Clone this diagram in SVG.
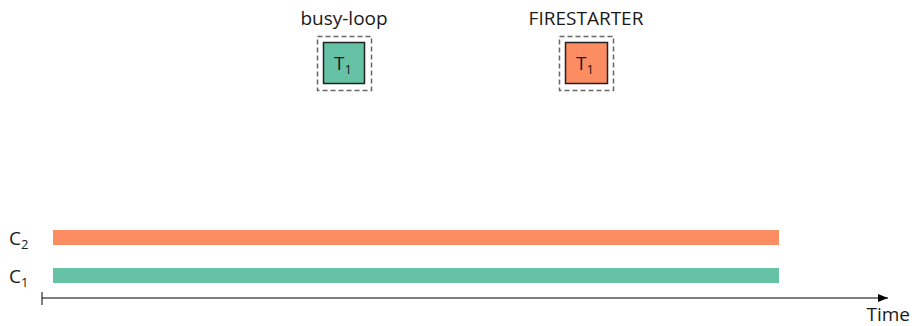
<svg xmlns="http://www.w3.org/2000/svg" width="914" height="326" viewBox="0 0 914 326">
<style>
text{font-family:"Open Sans","Noto Sans","DejaVu Sans",sans-serif;fill:#1a1a1a}
.lbl{font-size:19px}
.sub{font-size:13px}
.dash{fill:none;stroke:#666;stroke-width:1.5;stroke-dasharray:5,3}
.task{stroke:#222;stroke-width:1.5}
.green{fill:#66C2A5}
.orange{fill:#FC8D62}
</style>
<defs>
<marker id="arr" viewBox="0 0 10 10" refX="10" refY="5" markerWidth="10" markerHeight="10" markerUnits="userSpaceOnUse" orient="auto">
<path d="M0,1 L10,5 L0,9 z" fill="#000"/>
</marker>
</defs>
<g id="busy-loop">
<text class="lbl" x="344" y="25" text-anchor="middle">busy-loop</text>
<rect class="dash" x="317.5" y="36.5" width="54" height="54"/>
<rect class="task green" x="323.5" y="42.5" width="41" height="41"/>
<text class="lbl" x="334" y="70">T<tspan class="sub" dy="4">1</tspan></text>
</g>
<g id="firestarter">
<text class="lbl" x="586" y="25" text-anchor="middle">FIRESTARTER</text>
<rect class="dash" x="559.5" y="36.5" width="54" height="54"/>
<rect class="task orange" x="565.5" y="42.5" width="42" height="41"/>
<text class="lbl" x="576" y="70">T<tspan class="sub" dy="4">1</tspan></text>
</g>
<g id="c2">
<text class="lbl" x="9" y="245">C<tspan class="sub" dy="4">2</tspan></text>
<rect class="orange" x="53" y="230" width="726" height="15"/>
</g>
<g id="c1">
<text class="lbl" x="9" y="283">C<tspan class="sub" dy="4">1</tspan></text>
<rect class="green" x="53" y="268" width="726" height="15"/>
</g>
<g id="connectors">
<line x1="42" y1="298" x2="888" y2="298" stroke="#000" stroke-width="1" marker-end="url(#arr)"/>
<line x1="42" y1="292" x2="42" y2="305" stroke="#000" stroke-width="1"/>
</g>
<g id="axis-label">
<text class="lbl" x="910" y="321" text-anchor="end">Time</text>
</g>
</svg>
